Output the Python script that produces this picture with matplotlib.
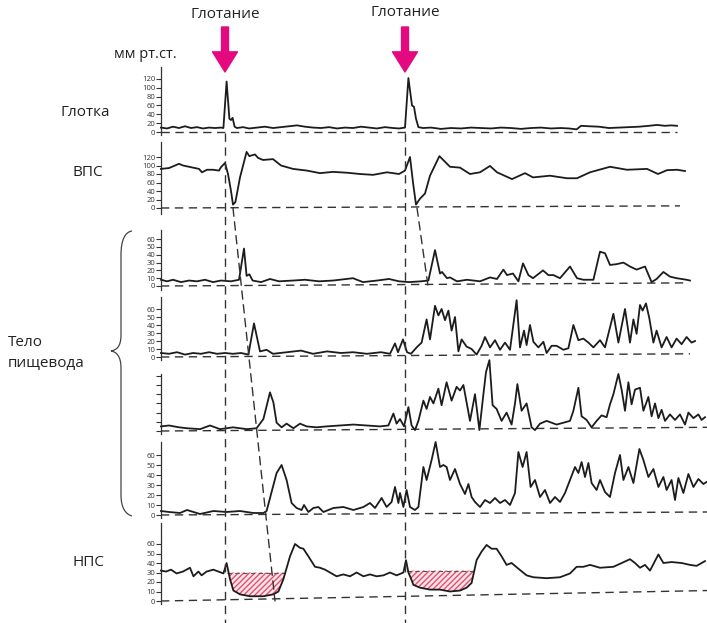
import numpy as np
import matplotlib.pyplot as plt
from matplotlib.patches import ConnectionPatch, PathPatch
from matplotlib.path import Path

plt.rcParams["font.family"] = ["Open Sans", "DejaVu Sans"]

# ---- data: (time, s ; pressure, mm Hg) ----
swallow_t = [3.2, 12.2]

pharynx = [(0.0, 10), (0.3, 8), (0.6, 12), (0.9, 9), (1.2, 13), (1.5, 9), (1.8, 11), (2.1, 8),
           (2.4, 10), (2.7, 9), (3.0, 10), (3.12, 9), (3.28, 114), (3.42, 30), (3.5, 27), (3.58, 32),
           (3.68, 12), (3.8, 9), (4.1, 11), (4.4, 8), (4.8, 10), (5.2, 12), (5.6, 9), (6.0, 11),
           (6.4, 13), (6.8, 15), (7.2, 12), (7.6, 10), (8.0, 9), (8.4, 11), (8.8, 8), (9.2, 10),
           (9.6, 9), (10.0, 12), (10.4, 10), (10.8, 8), (11.2, 11), (11.6, 9), (11.9, 8), (12.2, 10),
           (12.37, 122), (12.55, 60), (12.65, 57), (12.75, 30), (12.87, 11), (13.1, 9), (13.5, 10),
           (14.0, 7), (14.5, 9), (15.0, 8), (15.5, 10), (16.0, 9), (16.5, 8), (17.0, 10), (17.5, 9),
           (18.0, 7), (18.5, 9), (19.0, 10), (19.5, 8), (20.0, 9), (20.4, 8), (20.78, 6), (21.0, 14),
           (21.4, 13), (21.9, 12), (22.4, 9), (22.9, 10), (23.4, 11), (23.9, 12), (24.4, 14),
           (24.8, 16), (25.2, 14), (25.5, 15), (25.8, 14)]

ues = [(0.0, 92), (0.4, 94), (0.9, 104), (1.1, 100), (1.5, 96), (1.9, 92), (2.05, 84), (2.3, 90),
       (2.6, 90), (2.9, 88), (3.0, 96), (3.2, 106), (3.35, 80), (3.5, 40), (3.6, 8), (3.72, 14),
       (3.95, 72), (4.28, 132), (4.42, 122), (4.55, 124), (4.7, 126), (4.85, 118), (5.1, 113),
       (5.6, 115), (6.0, 100), (6.6, 92), (7.3, 88), (7.95, 82), (8.6, 85), (9.3, 83), (9.95, 80),
       (10.6, 78), (11.3, 84), (11.9, 80), (12.2, 88), (12.45, 120), (12.6, 60), (12.75, 8),
       (12.95, 22), (13.2, 34), (13.45, 76), (13.92, 122), (14.45, 97), (14.95, 95), (15.45, 80),
       (15.95, 84), (16.45, 99), (16.8, 84), (17.55, 68), (18.2, 82), (18.6, 72), (19.45, 76),
       (20.3, 70), (20.8, 70), (21.45, 84), (22.45, 97), (23.3, 90), (24.3, 92), (24.85, 80),
       (25.3, 89), (25.8, 90), (26.2, 87)]

body1 = [(0.0, 8), (0.3, 6), (0.6, 8), (1.0, 5), (1.4, 7), (1.8, 6), (2.2, 8), (2.6, 5), (3.0, 7),
         (3.5, 6), (3.9, 8), (4.15, 48), (4.28, 13), (4.42, 15), (4.58, 7), (5.0, 5), (5.45, 9),
         (5.9, 6), (6.6, 7), (7.2, 8), (7.9, 6), (8.6, 7), (9.6, 10), (10.1, 5), (10.8, 7), (11.4, 9),
         (11.9, 6), (12.4, 5), (13.0, 6), (13.37, 7), (13.7, 46), (13.95, 16), (14.05, 18),
         (14.3, 10), (14.45, 11), (14.8, 6), (15.3, 8), (15.95, 6), (16.45, 11), (16.8, 9),
         (17.12, 21), (17.3, 14), (17.6, 16), (17.87, 6), (18.1, 29), (18.37, 14), (18.6, 10),
         (19.1, 20), (19.37, 14), (19.62, 14), (19.95, 10), (20.45, 25), (20.8, 10), (21.12, 8),
         (21.62, 8), (21.95, 44), (22.2, 42), (22.45, 27), (22.78, 28), (23.12, 30), (23.45, 25),
         (23.78, 21), (24.2, 25), (24.53, 5), (24.78, 9), (25.12, 18), (25.45, 12), (25.78, 10),
         (26.28, 8), (26.45, 7)]

body2 = [(0.0, 5), (0.4, 4), (0.8, 6), (1.2, 3), (1.6, 5), (2.0, 4), (2.4, 6), (2.8, 4), (3.2, 5),
         (3.6, 4), (4.0, 5), (4.37, 3), (4.65, 42), (4.95, 7), (5.28, 9), (5.6, 4), (6.3, 6),
         (7.0, 8), (7.6, 4), (8.3, 7), (9.0, 5), (9.6, 6), (10.3, 4), (11.0, 6), (11.45, 4),
         (11.7, 17), (11.85, 6), (12.1, 22), (12.3, 6), (12.5, 4), (12.78, 12), (13.03, 18),
         (13.28, 47), (13.45, 22), (13.7, 64), (13.87, 52), (14.03, 60), (14.2, 46), (14.37, 58),
         (14.53, 33), (14.7, 50), (14.87, 7), (15.03, 22), (15.28, 13), (15.53, 10), (15.78, 3),
         (16.03, 14), (16.2, 25), (16.45, 12), (16.7, 21), (16.95, 9), (17.2, 18), (17.45, 9),
         (17.78, 71), (17.95, 12), (18.15, 33), (18.28, 15), (18.45, 40), (18.62, 19), (18.87, 12),
         (19.12, 19), (19.28, 5), (19.53, 14), (19.78, 14), (20.12, 9), (20.37, 11), (20.62, 40),
         (20.87, 21), (21.12, 23), (21.37, 18), (21.62, 12), (21.95, 21), (22.2, 12), (22.62, 54),
         (22.87, 18), (23.2, 60), (23.45, 18), (23.62, 47), (23.78, 29), (23.95, 65), (24.08, 58),
         (24.25, 67), (24.42, 48), (24.62, 18), (24.78, 33), (25.03, 12), (25.28, 25), (25.53, 12),
         (25.78, 23), (26.03, 16), (26.28, 25), (26.53, 18), (26.7, 20)]

body3 = [(0.0, 5), (0.4, 6), (0.9, 4), (1.3, 3), (1.95, 2), (2.45, 6), (2.95, 2), (3.6, 4), (4.3, 2),
         (4.78, 3), (5.12, 13), (5.45, 42), (5.62, 31), (5.78, 9), (6.03, 4), (6.28, 8), (6.62, 3),
         (6.95, 8), (7.28, 5), (7.78, 4), (8.28, 5), (8.95, 6), (9.62, 7), (10.28, 6), (10.95, 5),
         (11.37, 6), (11.62, 19), (11.78, 8), (11.95, 13), (12.15, 5), (12.37, 26), (12.53, 6),
         (12.7, 1), (12.87, 11), (13.12, 33), (13.28, 24), (13.45, 37), (13.62, 30), (13.87, 46),
         (14.03, 28), (14.28, 53), (14.53, 33), (14.78, 48), (14.95, 44), (15.12, 50), (15.45, 11),
         (15.7, 40), (15.92, 1), (16.12, 40), (16.25, 64), (16.42, 77), (16.58, 28), (16.78, 24),
         (17.03, 11), (17.28, 20), (17.53, 7), (17.7, 30), (17.82, 51), (18.03, 22), (18.28, 30),
         (18.53, 4), (18.7, 1), (18.95, 8), (19.28, 11), (19.53, 9), (19.78, 7), (20.12, 9),
         (20.45, 11), (20.62, 22), (20.87, 47), (21.03, 16), (21.28, 12), (21.53, 4), (21.78, 11),
         (22.03, 17), (22.28, 15), (22.45, 29), (22.62, 40), (22.87, 62), (23.03, 45), (23.2, 22),
         (23.37, 53), (23.53, 29), (23.7, 45), (23.95, 47), (24.12, 22), (24.37, 37), (24.53, 16),
         (24.7, 30), (24.87, 14), (25.03, 23), (25.2, 11), (25.45, 18), (25.7, 12), (25.95, 18),
         (26.2, 7), (26.37, 20), (26.62, 14), (26.87, 18), (27.03, 12), (27.2, 15)]

body4 = [(0.0, 4), (0.4, 3), (0.95, 2), (1.3, 5), (1.95, 1), (2.62, 4), (3.28, 3), (3.95, 4),
         (4.62, 2), (5.12, 2), (5.28, 4), (5.53, 23), (5.78, 42), (6.03, 50), (6.28, 35), (6.53, 12),
         (6.78, 7), (7.03, 5), (7.15, 10), (7.37, 3), (7.62, 7), (7.87, 8), (8.12, 3), (8.62, 7),
         (9.12, 8), (9.62, 5), (10.12, 8), (10.45, 12), (10.7, 7), (11.03, 17), (11.28, 8),
         (11.53, 13), (11.7, 28), (11.87, 12), (11.95, 22), (12.12, 8), (12.28, 25), (12.45, 8),
         (12.7, 5), (12.87, 8), (13.12, 48), (13.28, 35), (13.53, 55), (13.73, 73), (13.95, 48),
         (14.12, 50), (14.28, 48), (14.45, 35), (14.7, 46), (14.95, 31), (15.2, 21), (15.37, 31),
         (15.53, 18), (15.7, 13), (15.95, 8), (16.2, 15), (16.45, 12), (16.7, 17), (16.95, 12),
         (17.2, 15), (17.45, 10), (17.7, 22), (17.87, 63), (18.08, 48), (18.28, 63), (18.48, 28),
         (18.7, 35), (18.95, 18), (19.2, 25), (19.45, 12), (19.7, 18), (19.95, 13), (20.2, 22),
         (20.45, 35), (20.7, 48), (20.87, 42), (21.03, 53), (21.2, 38), (21.37, 52), (21.53, 32),
         (21.78, 25), (21.95, 35), (22.2, 23), (22.45, 18), (22.7, 42), (22.95, 60), (23.12, 35),
         (23.37, 48), (23.62, 32), (23.92, 66), (24.12, 55), (24.37, 38), (24.62, 46), (24.87, 28),
         (25.12, 38), (25.28, 25), (25.53, 35), (25.7, 15), (25.87, 37), (26.12, 22), (26.37, 41),
         (26.62, 28), (26.87, 36), (27.12, 31), (27.28, 33)]

les = [(0.0, 32), (0.25, 31), (0.5, 33), (0.78, 29), (1.1, 31), (1.45, 35), (1.62, 26), (1.87, 31),
       (2.03, 27), (2.28, 31), (2.62, 33), (2.87, 31), (3.12, 29), (3.28, 40), (3.45, 23),
       (3.62, 11), (3.95, 7), (4.45, 5), (5.12, 5), (5.62, 7), (5.87, 10), (6.12, 23), (6.45, 47),
       (6.7, 60), (6.95, 56), (7.12, 55), (7.37, 47), (7.7, 36), (7.95, 35), (8.2, 33), (8.45, 30),
       (8.78, 26), (9.12, 28), (9.45, 26), (9.78, 30), (10.12, 26), (10.45, 28), (10.78, 26),
       (11.12, 27), (11.45, 30), (11.78, 27), (12.12, 30), (12.25, 43), (12.37, 30), (12.53, 22),
       (12.62, 17), (12.95, 14), (13.45, 12), (13.95, 12), (14.45, 10), (14.95, 11), (15.28, 14),
       (15.53, 19), (15.78, 43), (16.03, 52), (16.28, 59), (16.53, 55), (16.78, 55), (17.03, 47),
       (17.28, 38), (17.53, 40), (17.87, 34), (18.28, 27), (18.62, 25), (19.28, 24), (19.95, 25),
       (20.45, 29), (20.78, 36), (21.12, 36), (21.45, 38), (21.95, 35), (22.62, 36), (23.45, 44),
       (23.7, 40), (23.95, 35), (24.2, 38), (24.45, 32), (24.87, 49), (25.12, 40), (25.53, 41),
       (26.03, 40), (26.45, 38), (26.78, 37), (27.2, 42)]

# LES relaxation windows and residual-pressure reference level
les_relax = [(3.3, 6.2), (12.3, 15.6)]
les_level = [30, 32]

# peristaltic wave: (t at UES, t at last channel reached)
wave_t = [(3.6, 5.7), (12.8, 13.35)]

ticks_big = [0, 20, 40, 60, 80, 100, 120]
ticks_small = [0, 10, 20, 30, 40, 50, 60]

# name, trace, ticks, labelled, baseline end t, baseline end value
channels = [
    ("Глотка", pharynx, ticks_big, True, 25.8, 0),
    ("ВПС", ues, ticks_big, True, 25.95, 5),
    ("Тело1", body1, ticks_small, True, 26.3, 4),
    ("Тело2", body2, ticks_small, True, 26.45, 4),
    ("Тело3", body3, ticks_small, False, 27.3, 4),
    ("Тело4", body4, ticks_small, True, 27.3, 3),
    ("НПС", les, ticks_small, True, 27.3, 11),
]

# layout in pixels: axis top, axis bottom, zero line, px per mm Hg
layout = [(67, 135, 132, 0.442), (142, 214, 208, 0.425), (230, 290, 286, 0.78),
          (297, 360, 357, 0.80), (374, 434, 431, 0.92), (442, 518, 515, 1.0),
          (523, 604, 601, 0.95)]

W, H = 707, 623
X0 = 161
T_MAX = 27.3
INK = "#1c1c1c"
DASH = (0, (6, 4))
PINK = "#e5097f"

fig = plt.figure(figsize=(W / 100, H / 100), dpi=100)

fa = fig.add_axes([0, 0, 1, 1])
fa.set_xlim(0, W)
fa.set_ylim(H, 0)
fa.axis("off")

axes = {}
for (name, trace, ticks, labelled, t_end, drift), (top, bot, zero, k) in zip(channels, layout):
    ax = fig.add_axes([X0 / W, 1 - bot / H, (W - X0) / W, (bot - top) / H])
    ax.set_xlim(0, T_MAX)
    ax.set_ylim(-(bot - zero) / k, (zero - top) / k)
    ax.patch.set_alpha(0)
    for s in ("top", "right", "bottom"):
        ax.spines[s].set_visible(False)
    ax.spines["left"].set_color("#333333")
    ax.spines["left"].set_linewidth(0.9)
    ax.set_xticks([])
    ax.set_yticks(ticks)
    ax.set_yticklabels([str(v) for v in ticks] if labelled else [])
    ax.tick_params(axis="y", length=3.5, width=0.8, pad=0.5, labelsize=5.5,
                   colors="#333333", direction="out")
    t, v = np.array(trace, dtype=float).T
    ax.plot(t, v, color=INK, lw=1.3, clip_on=False, zorder=3)
    ax.plot([0, t_end], [0, drift], color="#333333", lw=1.0, ls=DASH, clip_on=False)
    axes[name] = (ax, t, v)

# LES relaxation hatch
ax_l, t_l, v_l = axes["НПС"]
for (a, b), lvl in zip(les_relax, les_level):
    m = (t_l >= a) & (t_l <= b)
    ax_l.fill_between(t_l, v_l, lvl, where=m & (v_l <= lvl), interpolate=True,
                      facecolor="#fde4ea", edgecolor="#e2506c", hatch="//////",
                      linewidth=0, zorder=1)
    ax_l.plot([a, b], [lvl, lvl], color="#555555", lw=0.8, ls=(0, (4, 3)), zorder=2)

# overlay: swallow markers in time units, pixel heights
ov = fig.add_axes([X0 / W, 0, (W - X0) / W, 1])
ov.set_xlim(0, T_MAX)
ov.set_ylim(H, 0)
ov.axis("off")
ov.vlines(swallow_t, 133, H, colors="#333333", lw=1.0, linestyles=DASH)
for i, ts in enumerate(swallow_t):
    ov.annotate("", xy=(ts, 72), xytext=(ts, 27),
                arrowprops=dict(arrowstyle="simple,head_length=1.45,head_width=1.8,tail_width=0.5",
                                mutation_scale=10, color=PINK, shrinkA=0, shrinkB=0))
    ov.text(ts, 15 - 2 * i, "Глотание", ha="center", va="center", fontsize=11, color="#222222")

# peristaltic wave fronts
ax_u = axes["ВПС"][0]
for (ta, tb), end_ax in zip(wave_t, [ax_l, axes["Тело1"][0]]):
    con = ConnectionPatch(xyA=(ta, 0), coordsA=ax_u.transData, xyB=(tb, 0), coordsB=end_ax.transData,
                          color="#333333", lw=1.0, linestyle=DASH)
    fig.add_artist(con)

# labels
fa.text(145, 55, "мм рт.ст.", ha="center", va="center", fontsize=10.5, color="#222222")
fa.text(60, 113, "Глотка", ha="left", va="center", fontsize=11, color="#222222")
fa.text(72, 172, "ВПС", ha="left", va="center", fontsize=11, color="#222222")
fa.text(8, 342, "Тело", ha="left", va="center", fontsize=11, color="#222222")
fa.text(8, 363, "пищевода", ha="left", va="center", fontsize=11, color="#222222")
fa.text(73, 563, "НПС", ha="left", va="center", fontsize=11, color="#222222")

# brace around oesophageal body channels
verts = [(132, 231), (125, 232), (121, 240), (121, 255), (121, 335),
         (121, 346), (117, 350), (111, 351), (117, 352), (121, 357), (121, 368),
         (121, 495), (121, 507), (125, 514), (132, 516)]
codes = [Path.MOVETO, Path.CURVE4, Path.CURVE4, Path.CURVE4, Path.LINETO,
         Path.CURVE4, Path.CURVE4, Path.CURVE4, Path.CURVE4, Path.CURVE4, Path.CURVE4,
         Path.LINETO, Path.CURVE4, Path.CURVE4, Path.CURVE4]
fa.add_patch(PathPatch(Path(verts, codes), facecolor="none", edgecolor="#444444", lw=0.9))

fig.savefig("out.png", dpi=100)
